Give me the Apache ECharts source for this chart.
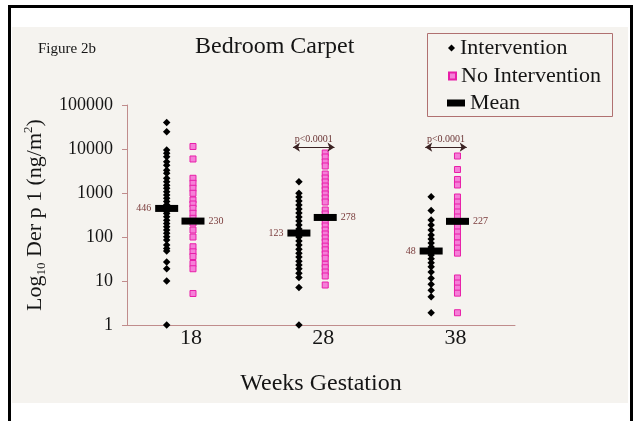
<!DOCTYPE html>
<html><head><meta charset="utf-8">
<script src="https://cdn.jsdelivr.net/npm/echarts@6/dist/echarts.min.js"></script>
<style>html,body{margin:0;padding:0;background:#fff}#c{width:640px;height:421px}</style>
</head><body><div id="c"></div>
<script>
// ---- data ----
const weeks = [18, 28, 38];
const yTickValues = [1, 10, 100, 1000, 10000, 100000];
const intervention18 = [40000, 24700, 9500, 8000, 6700, 5100, 4300, 3300, 2800, 2150, 1800, 1500, 1280, 1070, 900, 760, 640, 540, 450, 380, 340, 290, 240, 204, 171, 144, 121, 101, 85, 66, 55, 48, 27, 19, 10, 1];
const intervention28 = [1800, 985, 811, 658, 534, 433, 351, 285, 231, 187, 152, 123, 100, 81, 66, 53, 43, 35, 28, 23, 19, 15, 12, 7.1, 1];
const intervention38 = [824, 400, 243, 187, 144, 111, 90, 73, 59, 48, 39, 32, 26, 21, 16, 11.5, 8.4, 6.2, 4.4, 1.9];
const noIntervention18 = [11400, 5930, 2160, 1660, 1280, 985, 693, 562, 449, 346, 266, 208, 144, 100, 60, 46, 36, 25, 19, 5.2];
const noIntervention28 = [8100, 6580, 5070, 4110, 2700, 2190, 1780, 1440, 1170, 950, 770, 624, 411, 333, 270, 219, 178, 144, 117, 95, 77, 62, 51, 41, 33, 24, 20, 16, 13, 8.1];
const noIntervention38 = [6930, 3420, 2030, 1520, 811, 624, 481, 370, 285, 219, 169, 130, 100, 73, 56, 43, 11.7, 9, 6.9, 5.3, 1.9];
const meanIntervention = [446, 123, 48];
const meanNoIntervention = [230, 278, 227];
const pValueWeeks = [28, 38];
const pValueText = 'p<0.0001';
const pValueLevel = 11000;

// ---- layout / style constants ----
const INT_OFFSET = -1.84;
const NOINT_OFFSET = 0.15;
const FF = 'Liberation Serif';
const interventionGroups = [intervention18, intervention28, intervention38];
const noInterventionGroups = [noIntervention18, noIntervention28, noIntervention38];

const chart = echarts.init(document.getElementById('c'));
chart.setOption({
  backgroundColor: '#ffffff',
  animation: false,
  graphic: [
    { type: 'rect', z: -100, silent: true, shape: { x: 12, y: 27, width: 616, height: 376 }, style: { fill: '#f5f3ef' } },
    { type: 'rect', z: -99, silent: true, shape: { x: 9.5, y: 6.5, width: 622, height: 430 }, style: { fill: null, stroke: '#000', lineWidth: 3 } },
    { type: 'rect', z: 5, silent: true, shape: { x: 427.5, y: 33.5, width: 185, height: 83 }, style: { fill: null, stroke: '#b07070', lineWidth: 1 } }
  ],
  title: [
    { text: 'Bedroom Carpet', left: 190, top: 30, textStyle: { fontFamily: FF, fontSize: 24, fontWeight: 'normal', color: '#151515' } },
    { text: 'Figure 2b', left: 33, top: 37, textStyle: { fontFamily: FF, fontSize: 15, fontWeight: 'normal', color: '#151515' } }
  ],
  legend: [
    { data: [{ name: 'Intervention', icon: 'diamond' }], left: 443, top: 32, itemWidth: 7, itemHeight: 7, textStyle: { fontFamily: FF, fontSize: 22, color: '#151515' } },
    { data: [{ name: 'No Intervention', icon: 'rect' }], left: 443, top: 60, itemWidth: 7, itemHeight: 7, textStyle: { fontFamily: FF, fontSize: 22, color: '#151515' } },
    { data: [{ name: 'Mean', icon: 'rect' }], left: 442, top: 87, itemWidth: 18, itemHeight: 7, textStyle: { fontFamily: FF, fontSize: 22, color: '#151515' } }
  ],
  grid: { left: 127, right: 125, top: 105, bottom: 96 },
  xAxis: {
    type: 'value', min: 13.16, max: 42.5,
    name: 'Weeks Gestation', nameLocation: 'middle', nameGap: 47,
    nameTextStyle: { fontFamily: FF, fontSize: 24, color: '#151515' },
    axisLine: { lineStyle: { color: '#c08c8c', width: 1 } },
    axisTick: { show: false },
    splitLine: { show: false },
    axisLabel: { customValues: weeks, margin: 2, fontFamily: FF, fontSize: 22, color: '#151515' }
  },
  yAxis: {
    type: 'log', logBase: 10, min: 1, max: 100000,
    name: '{a|Log}{s|10}{a| Der p 1 (ng/m}{p|2}{a|)}',
    nameLocation: 'middle', nameRotate: 90, nameGap: 68,
    nameTextStyle: {
      rich: {
        a: { fontFamily: FF, fontSize: 22, color: '#151515', lineHeight: 26 },
        s: { fontFamily: FF, fontSize: 13, color: '#151515', lineHeight: 18, verticalAlign: 'bottom' },
        p: { fontFamily: FF, fontSize: 13, color: '#151515', lineHeight: 18, verticalAlign: 'top' }
      }
    },
    axisLine: { show: true, lineStyle: { color: '#c08c8c', width: 1 } },
    axisTick: { show: true, length: 5, lineStyle: { color: '#c08c8c' }, customValues: yTickValues },
    splitLine: { show: false },
    minorTick: { show: false },
    axisLabel: { customValues: yTickValues, margin: 14, fontFamily: FF, fontSize: 18, color: '#151515', formatter: v => String(Math.round(v)) }
  },
  series: [
    {
      name: 'Intervention', type: 'scatter', symbol: 'diamond', symbolSize: 7.5,
      itemStyle: { color: '#000000', opacity: 1 },
      data: weeks.flatMap((w, i) => interventionGroups[i].map(v => [w + INT_OFFSET, v]))
    },
    {
      name: 'No Intervention', type: 'scatter', symbol: 'rect', symbolSize: 6,
      itemStyle: { color: '#f57fd8', borderColor: '#e81fa8', borderWidth: 1, opacity: 1 },
      data: weeks.flatMap((w, i) => noInterventionGroups[i].map(v => [w + NOINT_OFFSET, v])),
      markLine: {
        silent: true, symbol: ['arrow', 'arrow'], symbolSize: 7,
        lineStyle: { color: '#3a2222', width: 1, type: 'solid' },
        label: { show: true, position: 'middle', formatter: pValueText, distance: 3, fontFamily: FF, fontSize: 10, color: '#6b3535' },
        data: pValueWeeks.map(w => [
          { coord: [w + INT_OFFSET - 0.45, pValueLevel] },
          { coord: [w + NOINT_OFFSET + 0.7, pValueLevel] }
        ])
      }
    },
    {
      name: 'Mean', type: 'scatter', symbol: 'rect', symbolSize: [23, 7], z: 5,
      itemStyle: { color: '#000000', opacity: 1 },
      label: { show: true, distance: 4, fontFamily: FF, fontSize: 10, color: '#7a3b3b', formatter: p => String(p.value[1]) },
      data: weeks.flatMap((w, i) => [
        { value: [w + INT_OFFSET, meanIntervention[i]], label: { position: 'left' } },
        { value: [w + NOINT_OFFSET, meanNoIntervention[i]], label: { position: 'right' } }
      ])
    }
  ]
});
</script>
</body></html>
